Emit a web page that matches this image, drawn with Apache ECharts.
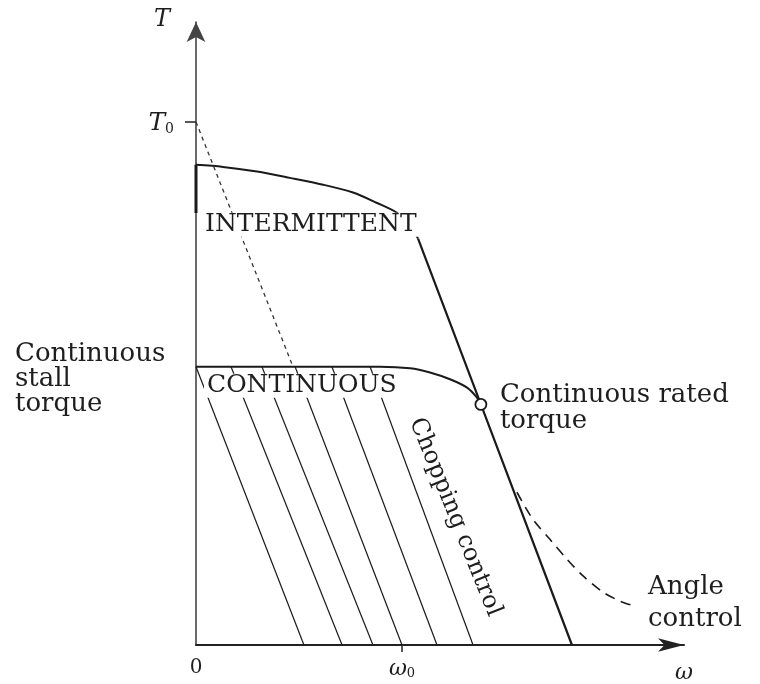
<!DOCTYPE html>
<html><head><meta charset="utf-8">
<script src="https://cdn.jsdelivr.net/npm/echarts@6/dist/echarts.min.js"></script>
<style>html,body{margin:0;padding:0;background:#fff}#c{width:760px;height:684px}</style>
</head><body><div id="c"></div>
<script>
// Units: speed in multiples of ω0, torque in multiples of T0
const xAxisMax = 2.369;
const yAxisMax = 1.191;
const omega0 = 1;
const T0 = 1;
const ratedPoint = [1.383, 0.460];
const intermittentEdge = [[0, 0.826], [0, 0.918]];
const intermittentCurve = [[0, 0.918], [0.131, 0.914], [0.296, 0.905], [0.456, 0.893], [0.617, 0.880], [0.762, 0.865], [0.879, 0.845], [0.976, 0.826], [1.034, 0.803], [1.078, 0.777]];
const maxSpeedLine = [[1.078, 0.777], [1.383, 0.460], [1.825, 0]];
const continuousCurve = [[0, 0.532], [0.893, 0.532], [1.039, 0.529], [1.136, 0.521], [1.233, 0.508], [1.316, 0.492], [1.364, 0.473], [1.383, 0.460]];
const hatchTops = [0, 0.170, 0.320, 0.481, 0.660, 0.845];
const hatchBottoms = [0.524, 0.709, 0.859, 1.0, 1.170, 1.345];
const stallTorque = 0.532;
const stallDashed = [[0, 1], [0.471, 0.532]];
const angleControlCurve = [[1.558, 0.292], [1.636, 0.240], [1.718, 0.202], [1.801, 0.164], [1.879, 0.132], [1.976, 0.101], [2.058, 0.084], [2.131, 0.074]];
const xTickValues = [0, omega0];
const yTickValues = [T0];
const annotationTexts = ['INTERMITTENT', 'CONTINUOUS', 'Continuous\nstall\ntorque', 'Continuous rated\ntorque', 'Chopping control', 'Angle\ncontrol'];

const FONT = 'DejaVu Serif';
const INK = '#1a1a1a';
const TXT = '#1e1e1e';

const lineBase = (data, extra) => Object.assign({
  type: 'line', data, symbol: 'none', showSymbol: false, silent: true, animation: false,
  lineStyle: { color: INK, width: 2 }, z: 3
}, extra || {});

const hatchSeries = hatchTops.map((x0, i) => lineBase([[x0, stallTorque], [hatchBottoms[i], 0]], { lineStyle: { color: INK, width: 1.2 } }));

const lastHatchMid = [(hatchTops[5] + hatchBottoms[5]) / 2, stallTorque / 2];

const capsStyle = { fontFamily: FONT, fontSize: 25, color: TXT, backgroundColor: '#fff', padding: [1, 3], lineHeight: 22 };
const textStyle = { fontFamily: FONT, fontSize: 26, color: TXT };

const annotationData = [
  { value: intermittentCurve[0], label: Object.assign({ formatter: annotationTexts[0], align: 'left', verticalAlign: 'middle', offset: [6, 60] }, capsStyle) },
  { value: continuousCurve[0], label: Object.assign({ formatter: annotationTexts[1], align: 'left', verticalAlign: 'middle', offset: [8, 19] }, capsStyle) },
  { value: continuousCurve[0], label: Object.assign({ formatter: annotationTexts[2], align: 'left', verticalAlign: 'middle', offset: [-181, 13], lineHeight: 25 }, textStyle) },
  { value: ratedPoint, label: Object.assign({ formatter: annotationTexts[3], align: 'left', verticalAlign: 'middle', offset: [19, 4], lineHeight: 26 }, textStyle) },
  { value: lastHatchMid, label: Object.assign({ formatter: annotationTexts[4], align: 'center', verticalAlign: 'middle', rotate: -68, offset: [23, -27] }, textStyle, { fontSize: 24 }) },
  { value: angleControlCurve[angleControlCurve.length - 1], label: Object.assign({ formatter: annotationTexts[5], align: 'left', verticalAlign: 'middle', offset: [13, -3], lineHeight: 32 }, textStyle) }
];

const chart = echarts.init(document.getElementById('c'), null, { renderer: 'canvas' });
chart.setOption({
  backgroundColor: '#fff',
  animation: false,
  grid: { left: 196, right: 76, top: 22, bottom: 38 },
  xAxis: {
    type: 'value', min: 0, max: xAxisMax,
    splitLine: { show: false },
    axisLine: { show: true, onZero: false, symbol: ['none', 'arrow'], symbolSize: [10, 26], lineStyle: { color: '#222', width: 2 } },
    axisTick: { show: true, customValues: [omega0], length: 7, lineStyle: { color: '#222', width: 1.5 } },
    axisLabel: {
      show: true, customValues: xTickValues, margin: 11,
      formatter: v => v === 0 ? '{r|0}' : '{w|ω}{s|0}',
      rich: {
        r: { fontFamily: FONT, fontSize: 20, color: TXT, lineHeight: 24 },
        w: { fontFamily: FONT, fontStyle: 'italic', fontSize: 22, color: TXT, lineHeight: 24, verticalAlign: 'bottom' },
        s: { fontFamily: FONT, fontSize: 13, color: TXT, lineHeight: 24, verticalAlign: 'bottom', padding: [6, 0, 0, 0] }
      }
    },
    name: 'ω', nameLocation: 'end', nameGap: 0,
    nameTextStyle: { fontFamily: FONT, fontStyle: 'italic', fontSize: 22, color: TXT, align: 'center', verticalAlign: 'top', padding: [17, 0, 0, 0] }
  },
  yAxis: {
    type: 'value', min: 0, max: yAxisMax,
    splitLine: { show: false },
    axisLine: { show: true, onZero: false, symbol: ['none', 'arrow'], symbolSize: [14, 20], lineStyle: { color: '#444', width: 1.6 } },
    axisTick: { show: true, customValues: yTickValues, length: 11, lineStyle: { color: '#222', width: 1.5 } },
    axisLabel: {
      show: true, customValues: yTickValues, margin: 22,
      formatter: () => '{t|T}{s|0}',
      rich: {
        t: { fontFamily: FONT, fontStyle: 'italic', fontSize: 25, color: TXT, lineHeight: 28, verticalAlign: 'bottom' },
        s: { fontFamily: FONT, fontSize: 14, color: TXT, lineHeight: 28, verticalAlign: 'bottom', padding: [8, 0, 0, 0] }
      }
    },
    name: 'T', nameLocation: 'end', nameGap: 2,
    nameTextStyle: { fontFamily: FONT, fontStyle: 'italic', fontSize: 24, color: TXT, align: 'right', verticalAlign: 'middle', padding: [0, 26, 0, 0] }
  },
  series: [
    lineBase(intermittentEdge, { lineStyle: { color: INK, width: 3 } }),
    lineBase(intermittentCurve, { smooth: 0.3 }),
    lineBase(maxSpeedLine, { lineStyle: { color: INK, width: 2.2 } }),
    lineBase(continuousCurve, { smooth: 0.3 }),
    ...hatchSeries,
    lineBase(stallDashed, { lineStyle: { color: '#333', width: 1.3, type: [4, 4] } }),
    lineBase(angleControlCurve, { smooth: 0.3, lineStyle: { color: INK, width: 1.6, type: [10, 7] } }),
    { type: 'scatter', data: [ratedPoint], symbol: 'circle', symbolSize: 11, silent: true, animation: false, z: 6,
      itemStyle: { color: '#fff', borderColor: INK, borderWidth: 1.8, opacity: 1 } },
    { type: 'scatter', data: annotationData, symbolSize: 0, silent: true, animation: false, z: 10,
      itemStyle: { opacity: 1 },
      label: { show: true, position: 'inside' } }
  ]
});
</script></body></html>
